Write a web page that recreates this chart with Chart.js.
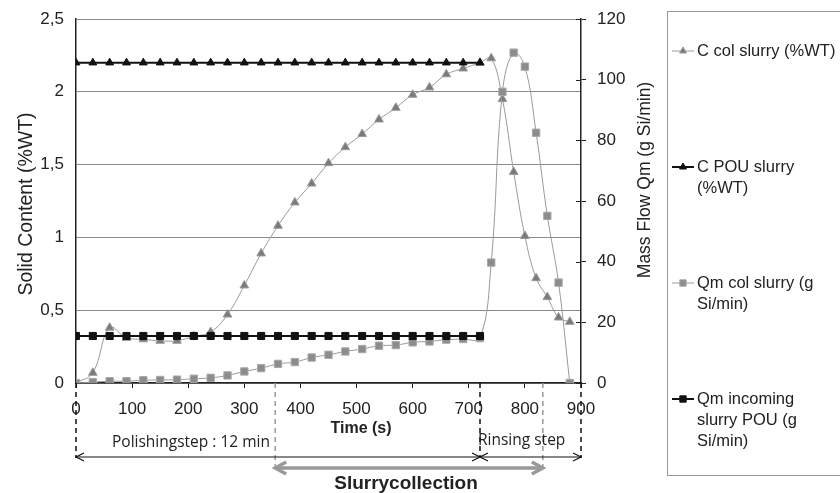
<!DOCTYPE html>
<html>
<head>
<meta charset="utf-8">
<script src="https://cdn.jsdelivr.net/npm/chart.js@4"></script>
<style>
  html, body { margin: 0; padding: 0; background: #fff; }
  #wrap { width: 840px; height: 493px; }
</style>
</head>
<body>
<div id="wrap"><canvas id="slurryChart" width="840" height="493"></canvas></div>
<script>
// time of each sample (s): every 30 s while polishing, every 20 s while rinsing
const timeS = [0, 30, 60, 90, 120, 150, 180, 210, 240, 270, 300, 330, 360, 390, 420, 450,
  480, 510, 540, 570, 600, 630, 660, 690, 720, 740, 760, 780, 800, 820, 840, 860, 880];

// solid content (%WT), left axis
const cColSlurry = [0, 0.07, 0.38, 0.31, 0.30, 0.29, 0.29, 0.32, 0.35, 0.47, 0.67, 0.89, 1.08,
  1.24, 1.37, 1.51, 1.62, 1.71, 1.81, 1.89, 1.98, 2.03, 2.12, 2.16, 2.20,
  2.23, 1.95, 1.45, 1.01, 0.72, 0.59, 0.45, 0.42];
const cPouSlurry = [2.2, 2.2, 2.2, 2.2, 2.2, 2.2, 2.2, 2.2, 2.2, 2.2, 2.2, 2.2, 2.2,
  2.2, 2.2, 2.2, 2.2, 2.2, 2.2, 2.2, 2.2, 2.2, 2.2, 2.2, 2.2,
  null, null, null, null, null, null, null, null];

// mass flow (g Si/min), right axis
const qmColSlurry = [0, 0.3, 0.6, 0.6, 0.9, 1.0, 1.1, 1.4, 1.7, 2.5, 3.8, 4.9, 6.3,
  6.9, 8.4, 9.3, 10.4, 11.2, 12.3, 12.5, 13.4, 13.7, 14.3, 14.5, 14.8,
  39.7, 96, 108.9, 104.3, 82.5, 55.1, 33.1, 0];
const qmIncomingPou = [15.5, 15.5, 15.5, 15.5, 15.5, 15.5, 15.5, 15.5, 15.5, 15.5, 15.5, 15.5, 15.5,
  15.5, 15.5, 15.5, 15.5, 15.5, 15.5, 15.5, 15.5, 15.5, 15.5, 15.5, 15.5,
  null, null, null, null, null, null, null, null];

const seriesNames = ['C col slurry (%WT)', 'C POU slurry (%WT)', 'Qm col slurry (g Si/min)', 'Qm incoming slurry POU (g Si/min)'];
const legendLines = [['C col slurry (%WT)'], ['C POU slurry', '(%WT)'], ['Qm col slurry (g', 'Si/min)'], ['Qm incoming', 'slurry POU (g', 'Si/min)']];

// phase markers on the time axis (s)
const polishEnd = 720;
const runEnd = 900;
const collectStart = 355;
const collectEnd = 832;

const FONT = '"Liberation Sans", Arial, sans-serif';
const NOTE_FONT = '"Open Sans", sans-serif';

const pts = (arr) => timeS.map((t, i) => ({ x: t, y: arr[i] }));
const comma = (v) => String(v).replace('.', ',');

const data = {
  datasets: [
    {
      label: seriesNames[0], data: pts(cColSlurry), yAxisID: 'y',
      borderColor: '#9a9a9a', borderWidth: 1, tension: 0.4,
      pointStyle: 'triangle', pointRadius: 5, pointBackgroundColor: '#7a7a7a', pointBorderColor: '#9a9a9a', pointBorderWidth: 1,
      order: 3,
    },
    {
      label: seriesNames[1], data: pts(cPouSlurry), yAxisID: 'y',
      borderColor: '#111', borderWidth: 2, tension: 0,
      pointStyle: 'triangle', pointRadius: 4.5, pointBackgroundColor: '#111', pointBorderColor: '#111', pointBorderWidth: 1,
      order: 2,
    },
    {
      label: seriesNames[2], data: pts(qmColSlurry), yAxisID: 'y1',
      borderColor: '#9a9a9a', borderWidth: 1, tension: 0.4,
      pointStyle: 'rect', pointRadius: 5.2, pointBackgroundColor: '#8c8c8c', pointBorderColor: '#a8a8a8', pointBorderWidth: 1,
      order: 1,
    },
    {
      label: seriesNames[3], data: pts(qmIncomingPou), yAxisID: 'y1',
      borderColor: '#111', borderWidth: 2, tension: 0,
      pointStyle: 'rect', pointRadius: 5, pointBackgroundColor: '#111', pointBorderColor: '#111', pointBorderWidth: 1,
      order: 0,
    },
  ],
};

// titles, legend and the phase annotations under the axis
const extrasPlugin = {
  id: 'extras',
  afterDraw(chart) {
    const ctx = chart.ctx;
    const x = chart.scales.x;
    const y1 = chart.scales.y1;
    const area = chart.chartArea;
    ctx.save();

    // right axis ticks crossing the axis line
    ctx.strokeStyle = '#222';
    ctx.lineWidth = 1;
    y1.ticks.forEach((tk) => {
      const py = Math.round(y1.getPixelForValue(tk.value)) + 0.5;
      ctx.beginPath();
      ctx.moveTo(area.right - 5, py);
      ctx.lineTo(area.right, py);
      ctx.stroke();
    });

    // axis titles
    ctx.fillStyle = '#222';
    ctx.textAlign = 'center';
    ctx.textBaseline = 'middle';
    ctx.save();
    ctx.font = '19.5px ' + FONT;
    ctx.translate(27, 204);
    ctx.rotate(-Math.PI / 2);
    ctx.fillText('Solid Content (%WT)', 0, 0);
    ctx.restore();
    ctx.save();
    ctx.font = '17.5px ' + FONT;
    ctx.translate(645, 180);
    ctx.rotate(-Math.PI / 2);
    ctx.fillText('Mass Flow Qm (g Si/min)', 0, 0);
    ctx.restore();
    ctx.font = 'bold 16px ' + FONT;
    ctx.fillText('Time (s)', 361, 429);

    // phase dashed lines
    const x0 = x.getPixelForValue(0);
    const xP = x.getPixelForValue(polishEnd);
    const xE = x.getPixelForValue(runEnd);
    const xC0 = x.getPixelForValue(collectStart);
    const xC1 = x.getPixelForValue(collectEnd);
    ctx.setLineDash([5, 4]);
    ctx.lineWidth = 1.5;
    ctx.strokeStyle = '#999';
    [xC0, xC1].forEach((px) => {
      ctx.beginPath(); ctx.moveTo(px, area.bottom); ctx.lineTo(px, 471); ctx.stroke();
    });
    ctx.strokeStyle = '#111';
    [x0, xP, xE].forEach((px) => {
      ctx.beginPath(); ctx.moveTo(px, area.bottom); ctx.lineTo(px, 458); ctx.stroke();
    });
    ctx.setLineDash([]);

    const arrow = (xa, xb, yy, color, w, hl, hw) => {
      ctx.strokeStyle = color;
      ctx.lineWidth = w;
      ctx.beginPath(); ctx.moveTo(xa, yy); ctx.lineTo(xb, yy); ctx.stroke();
      ctx.beginPath();
      ctx.moveTo(xa + hl, yy - hw); ctx.lineTo(xa, yy); ctx.lineTo(xa + hl, yy + hw);
      ctx.moveTo(xb - hl, yy - hw); ctx.lineTo(xb, yy); ctx.lineTo(xb - hl, yy + hw);
      ctx.stroke();
    };
    arrow(x0, xP, 457, '#111', 1.2, 8, 4);
    arrow(xP, xE, 457, '#111', 1.2, 8, 4);
    arrow(xC0, xC1, 468, '#999', 3.5, 11, 6);

    ctx.fillStyle = '#222';
    ctx.font = '15.5px ' + NOTE_FONT;
    ctx.textAlign = 'left';
    ctx.fillText('Polishingstep : 12 min', 112, 443);
    ctx.fillText('Rinsing step', 478, 441);
    ctx.font = 'bold 19px ' + FONT;
    ctx.textAlign = 'center';
    ctx.fillText('Slurrycollection', 406, 484);

    // legend box
    ctx.strokeStyle = '#999';
    ctx.lineWidth = 1;
    ctx.strokeRect(667.5, 11.5, 200, 464);
    const itemY = [51, 167, 283, 399];
    const lineH = 21;
    ctx.font = '16.5px ' + FONT;
    ctx.textAlign = 'left';
    chart.data.datasets.forEach((ds, i) => {
      const cy = itemY[i];
      ctx.strokeStyle = ds.borderColor;
      ctx.lineWidth = ds.borderWidth;
      ctx.beginPath(); ctx.moveTo(672, cy); ctx.lineTo(694, cy); ctx.stroke();
      ctx.fillStyle = ds.pointBackgroundColor;
      ctx.strokeStyle = ds.pointBorderColor;
      ctx.lineWidth = 1;
      Chart.helpers.drawPoint(ctx, {
        pointStyle: ds.pointStyle, radius: ds.pointStyle === 'rect' ? 4.5 : 4, rotation: 0, borderWidth: 1,
      }, 683, cy);
      ctx.fillStyle = '#222';
      legendLines[i].forEach((txt, k) => ctx.fillText(txt, 697, cy + k * lineH));
    });

    ctx.restore();
  },
};

// fixed axis box sizes so the plot area lands where the original has it
const fitY = (w) => (s) => { s.width = w; s.paddingTop = 0; s.paddingBottom = 0; };

new Chart(document.getElementById('slurryChart'), {
  type: 'line',
  data: data,
  plugins: [extrasPlugin],
  options: {
    responsive: false,
    animation: false,
    layout: { padding: { top: 19, left: 0, right: 0, bottom: 0 } },
    plugins: { legend: { display: false }, tooltip: { enabled: false } },
    scales: {
      x: {
        type: 'linear', min: 0, max: 900,
        afterFit: (s) => { s.height = 110; },
        ticks: { stepSize: 100, color: '#222', font: { size: 17, family: FONT }, padding: 11, maxRotation: 0 },
        grid: { drawOnChartArea: false, drawTicks: true, tickLength: 5, color: '#222' },
        border: { color: '#222', width: 1.5 },
      },
      y: {
        position: 'left', min: 0, max: 2.5,
        afterFit: fitY(76),
        ticks: { stepSize: 0.5, color: '#222', font: { size: 17, family: FONT }, padding: 12, callback: (v) => comma(v) },
        grid: { color: '#8a8a8a', lineWidth: 1, drawTicks: false },
        border: { color: '#222', width: 1.5 },
      },
      y1: {
        position: 'right', min: 0, max: 120,
        afterFit: fitY(259),
        ticks: { stepSize: 20, color: '#222', font: { size: 17, family: FONT }, padding: 11 },
        grid: { drawOnChartArea: false, drawTicks: true, tickLength: 5, color: '#222' },
        border: { color: '#222', width: 1.5 },
      },
    },
  },
});
</script>
</body>
</html>
